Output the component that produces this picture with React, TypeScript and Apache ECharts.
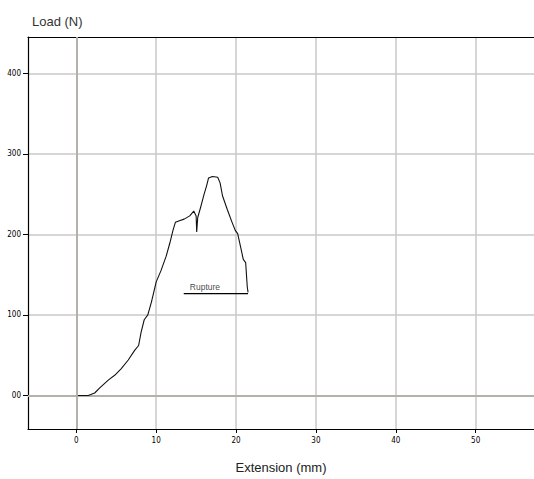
import React, { useEffect, useRef } from "react";
import * as echarts from "echarts";

const extension = [0.2, 1.5, 2.3, 2.9, 4.0, 4.8, 5.6, 6.5, 7.3, 7.8, 8.1, 8.5, 8.95, 9.4, 10.0, 10.6, 11.25, 11.7, 12.1, 12.4, 12.9, 13.5, 14.2, 14.7, 15.0, 15.07, 15.2, 15.6, 16.0, 16.3, 16.55, 17.05, 17.7, 18.0, 18.3, 18.9, 19.5, 19.9, 20.2, 20.6, 20.9, 21.2, 21.4, 21.5];
const load = [0, 0, 3, 9, 19, 25, 33, 44, 56, 62, 78, 94, 100, 116, 141, 155, 173, 189, 205, 215, 217, 219, 223, 229, 223, 203, 221, 235, 250, 260, 270, 272, 271, 264, 248, 231, 215, 205, 201, 183, 169, 165, 135, 128];

const ruptureX = [13.45, 21.5];
const ruptureY = [126.5, 126.5];
const ruptureLabel = "Rupture";
const ruptureLabelAt = [16.1, 126.5];

const xTicks = [0, 10, 20, 30, 40, 50];
const yTicks = [0, 100, 200, 300, 400];
const yTickLabels = ["00", "100", "200", "300", "400"];

export default function App() {
  const ref = useRef<HTMLDivElement>(null);
  useEffect(() => {
    if (!ref.current) return;
    const chart = echarts.init(ref.current, null, { renderer: "svg" });
    const tickFont = { fontSize: 8, fontFamily: "'Liberation Sans Narrow', 'DejaVu Sans Condensed', 'Liberation Sans', sans-serif", color: "#000" };
    chart.setOption({
      animation: false,
      backgroundColor: "#ffffff",
      title: {
        text: "Load (N)",
        left: 27,
        top: 10,
        textStyle: { fontSize: 13, fontWeight: "normal", color: "#333", fontFamily: "'Liberation Sans', Arial, sans-serif" },
      },
      grid: { left: 28, top: 37, right: -2, bottom: 40, containLabel: false },
      xAxis: [
        {
          type: "value",
          min: -6.05,
          max: 57.3,
          name: "Extension (mm)",
          nameLocation: "middle",
          nameGap: 32,
          nameTextStyle: { fontSize: 13, color: "#222", fontFamily: "'Liberation Sans', Arial, sans-serif" },
          axisLine: { show: true, onZero: false, lineStyle: { color: "#000", width: 1.2 } },
          axisTick: { show: true, length: 4, customValues: xTicks, lineStyle: { color: "#000" } },
          axisLabel: {
            ...tickFont,
            margin: 7,
            customValues: xTicks,
          },
          splitLine: { show: true, lineStyle: { color: "#c8c8c8", width: 1.5 } },
        },
        {
          type: "value",
          position: "top",
          min: -6.05,
          max: 57.3,
          axisLine: { show: true, onZero: false, lineStyle: { color: "#000", width: 1.2 } },
          axisTick: { show: false },
          axisLabel: { show: false },
          splitLine: { show: false },
        },
      ],
      yAxis: {
        type: "value",
        min: -41.7,
        max: 445.2,
        axisLine: { show: true, onZero: false, lineStyle: { color: "#000", width: 1.2 } },
        axisTick: { show: true, length: 5, customValues: yTicks, lineStyle: { color: "#000" } },
        axisLabel: {
          ...tickFont,
          margin: 7,
          customValues: yTicks,
          formatter: (v: number) => {
            const i = yTicks.indexOf(v);
            return i >= 0 ? yTickLabels[i] : "";
          },
        },
        splitLine: { show: true, lineStyle: { color: "#c8c8c8", width: 1.5 } },
      },
      series: [
        {
          type: "line",
          data: extension.map((x, i) => [x, load[i]]),
          showSymbol: false,
          symbol: "none",
          lineStyle: { color: "#111", width: 1.1 },
          markLine: {
            silent: true,
            symbol: "none",
            label: { show: false },
            lineStyle: { color: "#b4b2a8", width: 2, type: "solid" },
            data: [{ xAxis: 0 }, { yAxis: 0 }],
            z: 1,
          },
          z: 5,
        },
        {
          type: "line",
          data: ruptureX.map((x, i) => [x, ruptureY[i]]),
          showSymbol: false,
          symbol: "none",
          lineStyle: { color: "#000", width: 1.2 },
          z: 5,
        },
        {
          type: "scatter",
          data: [ruptureLabelAt],
          symbolSize: 0,
          label: {
            show: true,
            position: "top",
            distance: 2,
            formatter: ruptureLabel,
            fontSize: 8.5,
            color: "#111",
            fontFamily: "'Liberation Sans', Arial, sans-serif",
          },
          z: 6,
        },
      ],
    });
    return () => chart.dispose();
  }, []);
  return <div ref={ref} style={{ position: "fixed", left: 0, top: 0, width: 534, height: 479 }} />;
}
